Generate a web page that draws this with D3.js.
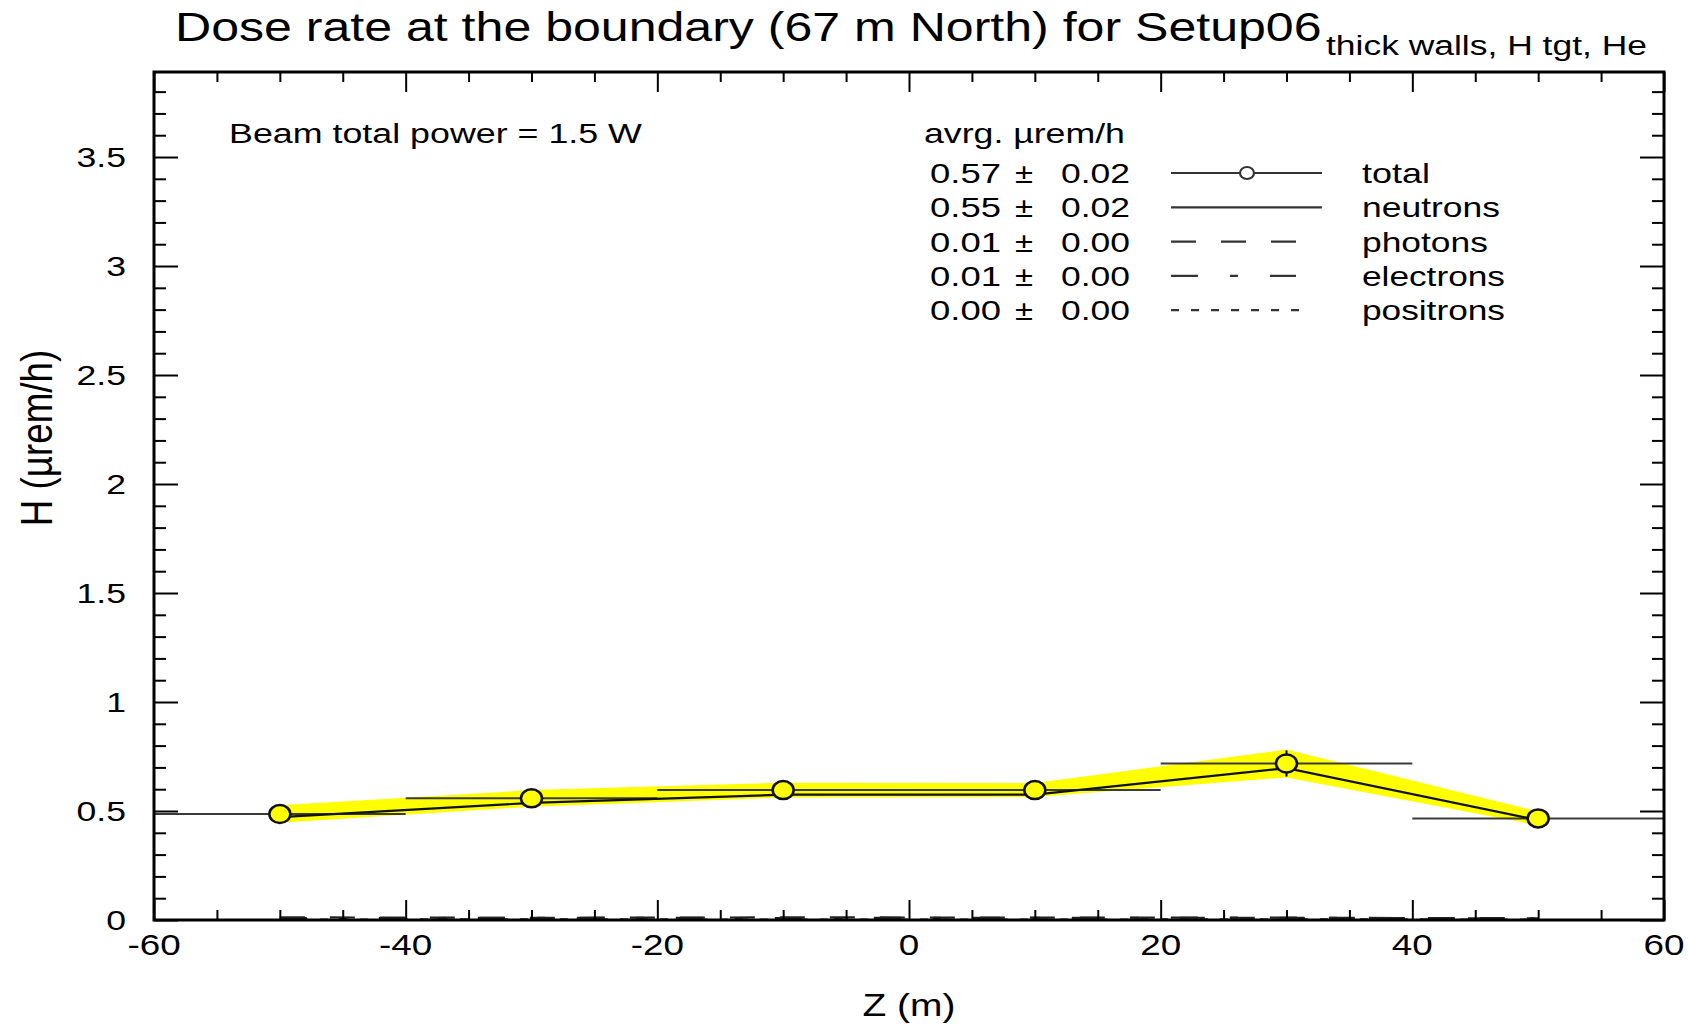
<!DOCTYPE html>
<html>
<head>
<meta charset="utf-8">
<script src="https://cdn.jsdelivr.net/npm/d3@7"></script>
<style>
  html, body { margin: 0; padding: 0; background: #fff; }
  svg { display: block; font-family: "Liberation Sans", Arial, Helvetica, sans-serif; }
</style>
</head>
<body>
<svg id="chart" width="1688" height="1026"></svg>
<script>
// Bin centres along the beam line (m) and the bin edges
const zCenters = [-50, -30, -10, 10, 30, 50];
const binEdges = [-60, -40, -20, 0, 20, 40, 60];

// Dose rate per bin (µrem/h)
const totalDose    = [0.486, 0.558, 0.596, 0.596, 0.718, 0.466];
const totalErr     = [0.040, 0.038, 0.034, 0.032, 0.064, 0.032];
const neutronDose  = [0.472, 0.537, 0.575, 0.575, 0.697, 0.458];
const photonDose   = [0.012, 0.010, 0.012, 0.011, 0.010, 0.008];
const electronDose = [0.008, 0.010, 0.009, 0.010, 0.011, 0.007];
const positronDose = [0.002, 0.003, 0.002, 0.002, 0.003, 0.002];

// Legend rows: average dose ± error
const legendNames = ["total", "neutrons", "photons", "electrons", "positrons"];
const legendAvg   = ["0.57", "0.55", "0.01", "0.01", "0.00"];
const legendErr   = ["0.02", "0.02", "0.00", "0.00", "0.00"];

// Axis labels
const xTickLabels = [-60, -40, -20, 0, 20, 40, 60];
const yTickLabels = [0, 0.5, 1, 1.5, 2, 2.5, 3, 3.5];

(function draw() {
  const svg = d3.select("#chart");
  const pLeft = 154, pRight = 1664, pTop = 72, pBottom = 920;

  const x = d3.scaleLinear().domain([-60, 60]).range([pLeft, pRight]);
  const y = d3.scaleLinear().domain([0, 3.89]).range([pBottom, pTop]);

  // text helper: horizontal stretch to a target width (the font is drawn wide)
  function txt(g, str, px, py, size, anchor, width, kx) {
    const t = g.append("text")
      .attr("font-size", size)
      .attr("text-anchor", anchor)
      .attr("fill", "#000")
      .text(str);
    const w = t.node().getComputedTextLength();
    const k = width ? width / w : (kx || 1);
    t.attr("transform", `translate(${px},${py}) scale(${k},1)`);
    return t;
  }

  // ---- yellow error band of the total dose ----
  const band = d3.area()
    .x((d, i) => x(zCenters[i]))
    .y0((d, i) => y(totalDose[i] - totalErr[i]))
    .y1((d, i) => y(totalDose[i] + totalErr[i]));
  svg.append("path").datum(totalDose).attr("d", band).attr("fill", "#ffff00");

  // ---- total: bin lines ----
  svg.append("g").selectAll("line").data(totalDose).join("line")
    .attr("x1", (d, i) => x(binEdges[i]))
    .attr("x2", (d, i) => x(binEdges[i + 1]))
    .attr("y1", d => y(d)).attr("y2", d => y(d))
    .attr("stroke", "#3a3a3a").attr("stroke-width", 2);

  // ---- neutrons ----
  const line = d3.line().x((d, i) => x(zCenters[i])).y(d => y(d));
  svg.append("path").datum(neutronDose).attr("d", line)
    .attr("fill", "none").attr("stroke", "#111").attr("stroke-width", 2.2);

  // ---- photons / electrons / positrons near zero ----
  const small = [
    { v: photonDose,   dash: "25,25" },
    { v: electronDose, dash: "27,32,8,32" },
    { v: positronDose, dash: "8,12" }
  ];
  small.forEach(s => {
    svg.append("path").datum(s.v).attr("d", line)
      .attr("fill", "none").attr("stroke", "#222").attr("stroke-width", 2.2)
      .attr("stroke-dasharray", s.dash);
  });

  // ---- total: error bars and markers ----
  svg.append("g").selectAll("line").data(totalDose).join("line")
    .attr("x1", (d, i) => x(zCenters[i])).attr("x2", (d, i) => x(zCenters[i]))
    .attr("y1", (d, i) => y(d - totalErr[i] + 0.004))
    .attr("y2", (d, i) => y(d + totalErr[i] - 0.004))
    .attr("stroke", "#000").attr("stroke-width", 2);
  svg.append("g").selectAll("ellipse").data(totalDose).join("ellipse")
    .attr("cx", (d, i) => x(zCenters[i])).attr("cy", d => y(d))
    .attr("rx", 10.5).attr("ry", 9)
    .attr("fill", "#ffff00").attr("stroke", "#111").attr("stroke-width", 2.5);

  // ---- axes (ticks only; labels drawn separately) ----
  const xTicks = d3.range(-60, 60.001, 5);
  const yTicks = d3.range(0, 3.85, 0.1);
  const isMajorX = d => Math.abs(d % 20) < 1e-6;
  const isMajorY = d => Math.abs(d * 2 - Math.round(d * 2)) < 1e-6;

  function styleTicks(g, majorFn, major, minor, attr) {
    g.select(".domain").remove();
    g.selectAll(".tick line")
      .attr(attr, d => (majorFn(d) ? major : minor))
      .attr("stroke", "#000").attr("stroke-width", 2);
    g.selectAll(".tick text").remove();
  }

  svg.append("g").attr("transform", `translate(0,${pBottom})`)
    .call(d3.axisBottom(x).tickValues(xTicks).tickSizeOuter(0))
    .call(g => styleTicks(g, isMajorX, -20, -10, "y2"));
  svg.append("g").attr("transform", `translate(0,${pTop})`)
    .call(d3.axisTop(x).tickValues(xTicks).tickSizeOuter(0))
    .call(g => styleTicks(g, isMajorX, 20, 10, "y2"));
  svg.append("g").attr("transform", `translate(${pLeft},0)`)
    .call(d3.axisLeft(y).tickValues(yTicks).tickSizeOuter(0))
    .call(g => styleTicks(g, isMajorY, 24, 12, "x2"));
  svg.append("g").attr("transform", `translate(${pRight},0)`)
    .call(d3.axisRight(y).tickValues(yTicks).tickSizeOuter(0))
    .call(g => styleTicks(g, isMajorY, -24, -12, "x2"));

  // frame
  svg.append("rect")
    .attr("x", pLeft).attr("y", pTop)
    .attr("width", pRight - pLeft).attr("height", pBottom - pTop)
    .attr("fill", "none").attr("stroke", "#000").attr("stroke-width", 3);

  // tick labels
  const lab = svg.append("g");
  yTickLabels.forEach(v => {
    txt(lab, String(v), 126, y(v) + 10, 28, "end", null, 1.27);
  });
  xTickLabels.forEach(v => {
    txt(lab, String(v), x(v), 955, 29, "middle", null, 1.27);
  });

  // axis titles
  txt(svg, "Z (m)", (pLeft + pRight) / 2, 1016, 31, "middle", 93);
  svg.append("text")
    .attr("font-size", 35).attr("text-anchor", "middle")
    .attr("transform", `translate(52,438) rotate(-90) scale(1.05,1.25)`)
    .text("H (\u00b5rem/h)");

  // title with subscript
  txt(svg, "Dose rate at the boundary (67 m North) for Setup06", 175, 41, 41, "start", 1147);
  txt(svg, "thick walls, H tgt, He", 1326, 55, 27, "start", 321);

  // annotation
  txt(svg, "Beam total power = 1.5 W", 229, 143, 27, "start", 413);

  // legend
  const leg = svg.append("g");
  txt(leg, "avrg. \u00b5rem/h", 924, 143, 27, "start", 201);
  const rowY = i => 173 + i * 34.3;
  const legendDash = [null, null, "25,25", "27,32,8,32", "8,12"];
  const legendLineEnd = [1322, 1322, 1297, 1296, 1308];
  const labelWidths = [68, 138, 126, 143, 143];
  legendNames.forEach((name, i) => {
    const cy = rowY(i), by = cy + 10;
    txt(leg, legendAvg[i], 930, by, 27, "start", 71);
    txt(leg, "\u00b1", 1015, by, 27, "start", 18);
    txt(leg, legendErr[i], 1061, by, 27, "start", 69);
    txt(leg, name, 1362, by, 27, "start", labelWidths[i]);
    leg.append("line")
      .attr("x1", 1171).attr("x2", legendLineEnd[i]).attr("y1", cy).attr("y2", cy)
      .attr("stroke", "#333").attr("stroke-width", 2.2)
      .attr("stroke-dasharray", legendDash[i]);
    if (i === 0) {
      leg.append("ellipse").attr("cx", 1247).attr("cy", cy)
        .attr("rx", 7).attr("ry", 6)
        .attr("fill", "#fff").attr("stroke", "#333").attr("stroke-width", 2.2);
    }
  });
})();
</script>
</body>
</html>
